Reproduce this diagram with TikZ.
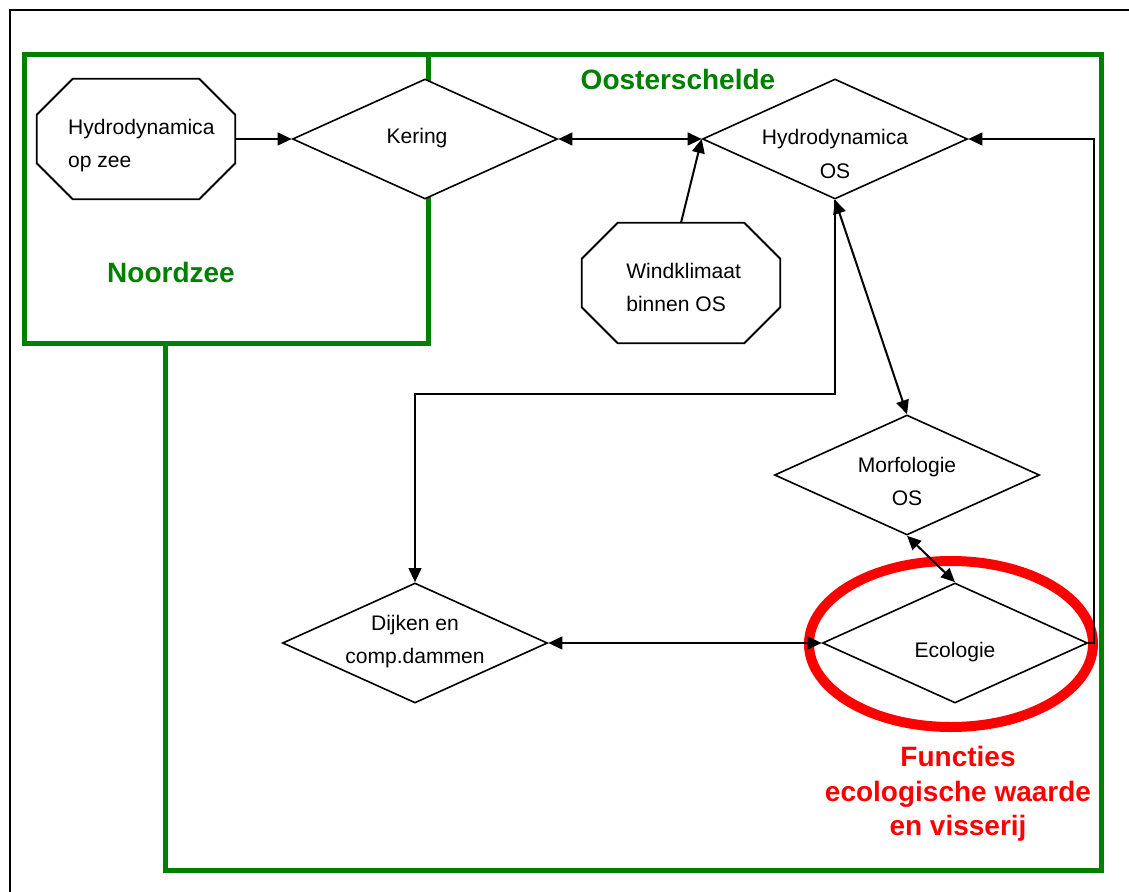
\documentclass[tikz,border=0pt]{standalone}
\usepackage{fontspec}
\setmainfont{Liberation Sans}
\usetikzlibrary{arrows.meta,calc,positioning,shapes.geometric}
\definecolor{ZoneGreen}{HTML}{008000}
\definecolor{FocusRed}{HTML}{FF0000}
\newcommand{\nodetextsize}{\fontsize{15.8}{24.75}\selectfont}
\newcommand{\zonetextsize}{\fontsize{21}{26}\selectfont\bfseries}
% text block whose first baseline sits #2 below the node centre
\newcommand{\parttext}[3][c]{%
  \raisebox{-#2}[0pt][0pt]{\begin{tabular}[t]{@{}#1@{}}#3\end{tabular}}}
\newcommand{\octoutline}[2][36]{%
  \draw[line width=1.4pt]
    ($(#2.north west)+(#1,0)$) -- ($(#2.north east)+(-#1,0)$)
    -- ($(#2.north east)+(0,#1)$) -- ($(#2.south east)+(0,-#1)$)
    -- ($(#2.south east)+(-#1,0)$) -- ($(#2.south west)+(#1,0)$)
    -- ($(#2.south west)+(0,-#1)$) -- ($(#2.north west)+(0,#1)$) -- cycle;%
}
\tikzset{
  choice/.style={diamond, draw, fill=white, line width=1.2pt, aspect=2.2,
    inner sep=0pt, minimum width=198.75pt, minimum height=90pt,
    font=\nodetextsize},
  srcbox/.style={rectangle, draw=none, inner sep=0pt,
    minimum width=148.5pt, minimum height=90pt, font=\nodetextsize},
  zone/.style={draw=ZoneGreen, line width=3.75pt},
  link/.style={line width=1.5pt, -{Triangle[length=10.5pt,width=9.5pt]}},
  linkboth/.style={line width=1.5pt,
    {Triangle[length=10.5pt,width=9.5pt]}-{Triangle[length=10.5pt,width=9.5pt]}}
}
\begin{document}
\begin{tikzpicture}[x=0.75pt, y=-0.75pt]
  \useasboundingbox (0,0) rectangle (1129,892);
  \clip (0,0) rectangle (1129,892);
  \draw[line width=1.5pt] (10,10) rectangle (1145,905);

  % zones
  \draw[zone] (24,55) rectangle (428,343);
  \draw[zone] (428,55) -- (1101,55) -- (1101,870) -- (165,870) -- (165,343);
  \node[text=ZoneGreen, font=\zonetextsize, anchor=base] (oslabel) at (678,90) {Oosterschelde};
  \node[text=ZoneGreen, font=\zonetextsize, anchor=base] (nzlabel) at (171,282) {Noordzee};

  % focus
  \draw[draw=FocusRed, line width=7.5pt] (951,644) ellipse [x radius=142, y radius=83];

  % sources
  \node[srcbox] (hzee) at (136,139) {\hspace*{8pt}\parttext[l]{-3.75pt}{Hydrodynamica\\op zee}};
  \octoutline{hzee}
  \node[srcbox] (wind) at (681,283) {\hspace*{4pt}\parttext[l]{-3.75pt}{Windklimaat\\binnen OS}};
  \octoutline{wind}

  % system parts
  \node[choice] (kering) at (425,139) {\parttext{3pt}{Kering}\hspace*{12pt}};
  \node[choice] (hos) at (835,139) {\parttext{4.5pt}{Hydrodynamica\\OS}};
  \node[choice] (morf) at (907,475) {\parttext{-2.25pt}{Morfologie\\OS}};
  \node[choice] (eco) at (955,643) {\parttext{10.5pt}{Ecologie}};
  \node[choice] (dijk) at (415,643) {\parttext{-9.75pt}{Dijken en\\comp.dammen}};

  % relations
  \draw[link] (hzee.east) -- (kering.west);
  \draw[linkboth] (kering.east) -- (hos.west);
  \draw[link] (wind.north) -- (hos.west);
  \draw[link] (eco.east) -- ++(6,0) |- (hos.east);
  \draw[linkboth] (hos.south) -- (morf.north);
  \draw[link] (hos.south) -- ++(0,194) -| (dijk.north);
  \draw[linkboth] (morf.south) -- (eco.north);
  \draw[linkboth] (dijk.east) -- (eco.west);

  \node[text=FocusRed, font=\zonetextsize, align=center, inner sep=0pt,
    anchor=north] (functies) at (958,746)
    {Functies\\ecologische waarde\\en visserij};
\end{tikzpicture}
\end{document}
